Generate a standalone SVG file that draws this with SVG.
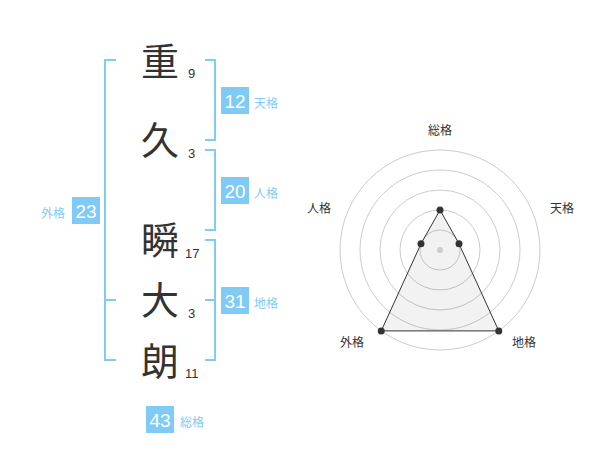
<svg xmlns="http://www.w3.org/2000/svg" width="600" height="470" viewBox="0 0 600 470">
<style>
.k{font-family:"Noto Sans CJK JP","Liberation Sans",sans-serif;font-size:38px;fill:#333;text-anchor:middle}
.n{font-family:"Liberation Sans",sans-serif;font-size:13px;fill:#333}
.br{fill:none;stroke:#80cbf5;stroke-width:2}
.bx{fill:#80cbf5}
.bn{font-family:"Liberation Sans",sans-serif;font-size:19px;fill:#fff;text-anchor:middle}
.bl{font-family:"Noto Sans CJK JP",sans-serif;font-size:12px;fill:#80cbf5}
.rl{font-family:"Noto Sans CJK JP",sans-serif;font-size:12px;fill:#333;text-anchor:middle}
.ring{fill:none;stroke:#ccc;stroke-width:1}
</style>
<rect width="600" height="470" fill="#fff"/>
<g id="chars">
<g id="c1"><text class="k" x="160" y="75">重</text><text class="n" x="188" y="78">9</text></g>
<g id="c2"><text class="k" x="160" y="154">久</text><text class="n" x="188" y="158">3</text></g>
<g id="c3"><text class="k" x="160" y="254">瞬</text><text class="n" x="185" y="258">17</text></g>
<g id="c4"><text class="k" x="160" y="314">大</text><text class="n" x="188" y="318">3</text></g>
<g id="c5"><text class="k" x="160" y="375">朗</text><text class="n" x="185" y="378">11</text></g>
</g>
<g id="connectors">
<path class="br" d="M116,60 H105 V360 H116 M105,300 H116"/>
<path class="br" d="M205,60 H215 V140 H205"/>
<path class="br" d="M205,150 H215 V230 H205"/>
<path class="br" d="M205,240 H215 V360 H205 M215,300 H205"/>
</g>
<g id="tenkaku"><rect class="bx" x="221" y="87" width="28" height="27"/><text class="bn" x="235" y="108">12</text><text class="bl" x="254" y="108">天格</text></g>
<g id="jinkaku"><rect class="bx" x="221" y="177" width="28" height="27"/><text class="bn" x="235" y="198">20</text><text class="bl" x="254" y="198">人格</text></g>
<g id="chikaku"><rect class="bx" x="221" y="287" width="28" height="27"/><text class="bn" x="235" y="308">31</text><text class="bl" x="254" y="308">地格</text></g>
<g id="gaikaku"><rect class="bx" x="72" y="197" width="28" height="27"/><text class="bn" x="86" y="218">23</text><text class="bl" x="41" y="218">外格</text></g>
<g id="soukaku"><rect class="bx" x="146" y="406" width="28" height="27"/><text class="bn" x="160" y="427">43</text><text class="bl" x="180" y="427">総格</text></g>
<g id="radar">
<circle class="ring" cx="440" cy="250" r="20"/>
<circle class="ring" cx="440" cy="250" r="40"/>
<circle class="ring" cx="440" cy="250" r="60"/>
<circle class="ring" cx="440" cy="250" r="80"/>
<circle class="ring" cx="440" cy="250" r="100"/>
<polygon points="440,210 459.02,243.82 498.78,330.9 381.22,330.9 420.98,243.82" fill="#000" fill-opacity="0.05" stroke="#333" stroke-width="1"/>
<circle cx="440" cy="250" r="3" fill="#ccc"/>
<g fill="#333">
<circle cx="440" cy="210" r="3.5"/>
<circle cx="459.02" cy="243.82" r="3.5"/>
<circle cx="498.78" cy="330.9" r="3.5"/>
<circle cx="381.22" cy="330.9" r="3.5"/>
<circle cx="420.98" cy="243.82" r="3.5"/>
</g>
<text class="rl" x="440" y="135">総格</text>
<text class="rl" x="562" y="213">天格</text>
<text class="rl" x="524" y="347">地格</text>
<text class="rl" x="352" y="347">外格</text>
<text class="rl" x="319" y="213">人格</text>
</g>
</svg>
